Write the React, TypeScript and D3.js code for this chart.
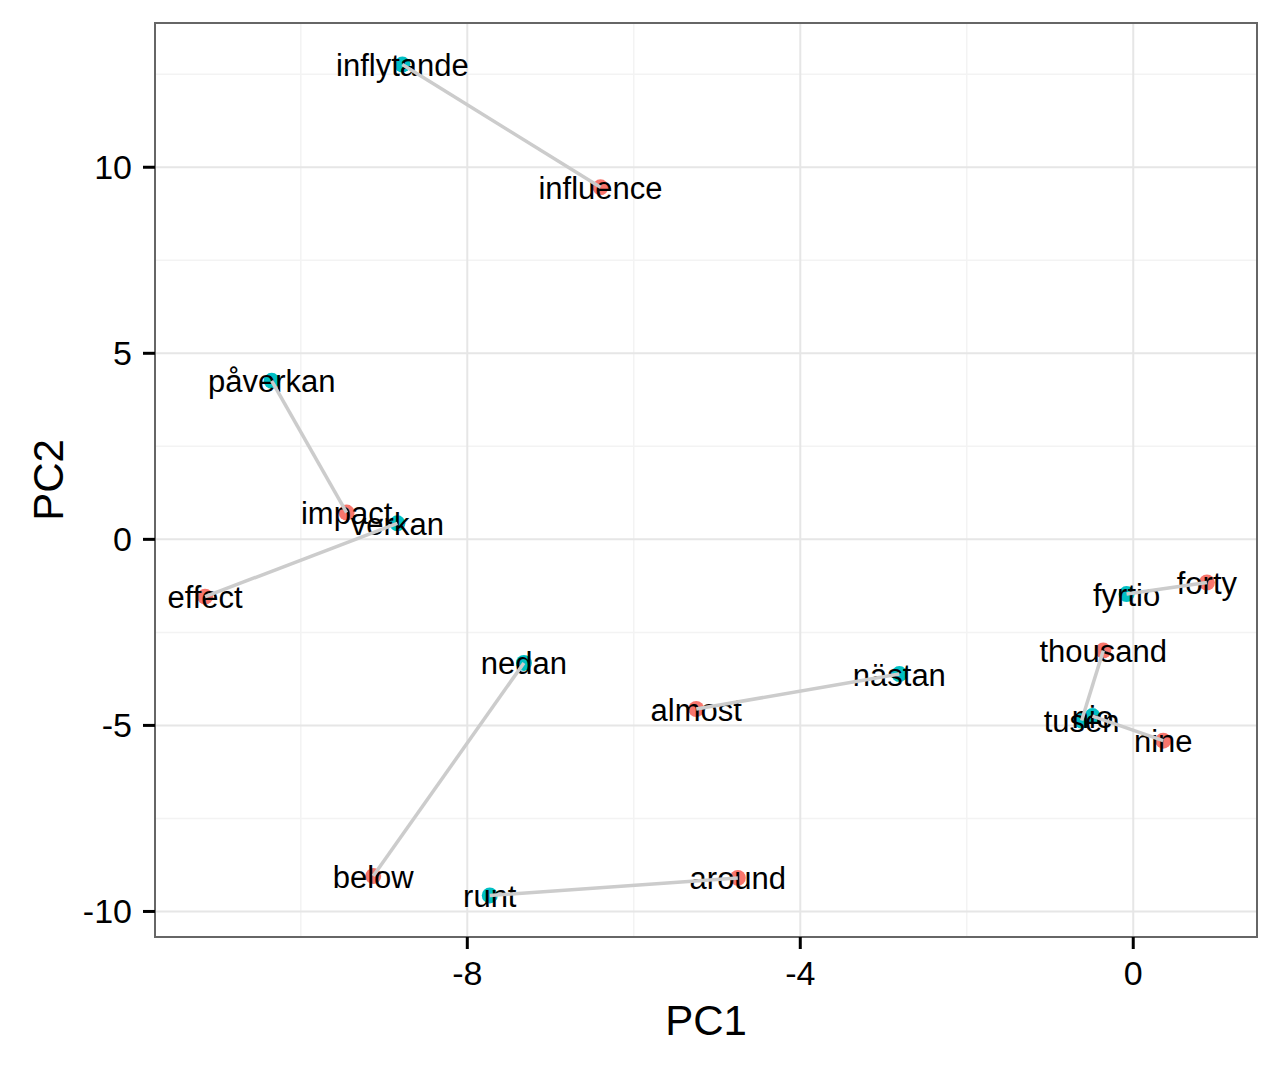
import React from "react";
import * as d3 from "d3";

const englishWords = ["influence", "impact", "effect", "below", "around", "almost", "forty", "thousand", "nine"];
const englishPC1 = [-6.40, -9.45, -11.15, -9.13, -4.75, -5.25, 0.885, -0.36, 0.36];
const englishPC2 = [9.46, 0.72, -1.54, -9.05, -9.10, -4.56, -1.16, -2.99, -5.41];

const swedishWords = ["inflytande", "påverkan", "verkan", "nedan", "runt", "nästan", "fyrtio", "tusen", "nio"];
const swedishPC1 = [-8.78, -10.35, -8.84, -7.32, -7.73, -2.81, -0.08, -0.62, -0.49];
const swedishPC2 = [12.76, 4.26, 0.43, -3.32, -9.57, -3.62, -1.47, -4.87, -4.75];

const xMajorTicks = [-8, -4, 0];
const xMinorTicks = [-10, -6, -2];
const yMajorTicks = [-10, -5, 0, 5, 10];
const yMinorTicks = [-7.5, -2.5, 2.5, 7.5, 12.5];

const RED = "#F8766D";
const TEAL = "#00BFC4";

type Pt = { word: string; x: number; y: number; color: string };

export default function App() {
  const W = 1280, H = 1066;
  const left = 155, right = 1257, top = 23, bottom = 937;

  const points: Pt[] = [
    ...englishWords.map((w, i) => ({ word: w, x: englishPC1[i], y: englishPC2[i], color: RED })),
    ...swedishWords.map((w, i) => ({ word: w, x: swedishPC1[i], y: swedishPC2[i], color: TEAL })),
  ];

  const xExt = d3.extent(points, (d) => d.x) as [number, number];
  const yExt = d3.extent(points, (d) => d.y) as [number, number];
  const xPad = (xExt[1] - xExt[0]) * 0.05;
  const yPad = (yExt[1] - yExt[0]) * 0.05;
  const x = d3.scaleLinear().domain([xExt[0] - xPad, xExt[1] + xPad]).range([left, right]);
  const y = d3.scaleLinear().domain([yExt[0] - yPad, yExt[1] + yPad]).range([bottom, top]);

  const font = "'Liberation Sans', Arial, Helvetica, sans-serif";

  return (
    <svg width={W} height={H} style={{ position: "absolute", left: 0, top: 0, background: "#fff" }} fontFamily={font}>
      <rect x={0} y={0} width={W} height={H} fill="#fff" />
      {/* minor grid */}
      {xMinorTicks.map((t) => (
        <line key={"xm" + t} x1={x(t)} x2={x(t)} y1={top} y2={bottom} stroke="#F3F3F3" strokeWidth={1.5} />
      ))}
      {yMinorTicks.map((t) => (
        <line key={"ym" + t} x1={left} x2={right} y1={y(t)} y2={y(t)} stroke="#F3F3F3" strokeWidth={1.5} />
      ))}
      {/* major grid */}
      {xMajorTicks.map((t) => (
        <line key={"xM" + t} x1={x(t)} x2={x(t)} y1={top} y2={bottom} stroke="#E6E6E6" strokeWidth={2} />
      ))}
      {yMajorTicks.map((t) => (
        <line key={"yM" + t} x1={left} x2={right} y1={y(t)} y2={y(t)} stroke="#E6E6E6" strokeWidth={2} />
      ))}

      {/* points */}
      {points.map((p, i) => (
        <circle key={"p" + i} cx={x(p.x)} cy={y(p.y)} r={8} fill={p.color} />
      ))}
      {/* labels */}
      {points.map((p, i) => (
        <text key={"t" + i} x={x(p.x)} y={y(p.y) + 11.5} textAnchor="middle" fontSize={31} fill="#000">
          {p.word}
        </text>
      ))}
      {/* segments */}
      {englishWords.map((_, i) => (
        <line
          key={"s" + i}
          x1={x(englishPC1[i])}
          y1={y(englishPC2[i])}
          x2={x(swedishPC1[i])}
          y2={y(swedishPC2[i])}
          stroke="#CCCCCC"
          strokeWidth={3.5}
        />
      ))}

      {/* panel border */}
      <rect x={left} y={top} width={right - left} height={bottom - top} fill="none" stroke="#666" strokeWidth={2} />

      {/* x axis ticks */}
      {xMajorTicks.map((t) => (
        <g key={"xt" + t}>
          <line x1={x(t)} x2={x(t)} y1={bottom} y2={bottom + 12} stroke="#000" strokeWidth={3} />
          <text x={x(t)} y={bottom + 48} textAnchor="middle" fontSize={34} fill="#000">
            {t}
          </text>
        </g>
      ))}
      {/* y axis ticks */}
      {yMajorTicks.map((t) => (
        <g key={"yt" + t}>
          <line x1={left - 12} x2={left} y1={y(t)} y2={y(t)} stroke="#000" strokeWidth={3} />
          <text x={left - 23} y={y(t) + 12} textAnchor="end" fontSize={34} fill="#000">
            {t}
          </text>
        </g>
      ))}

      {/* axis titles */}
      <text x={(left + right) / 2} y={1035} textAnchor="middle" fontSize={42} fill="#000">
        PC1
      </text>
      <text
        transform={`translate(63, ${(top + bottom) / 2}) rotate(-90)`}
        textAnchor="middle"
        fontSize={42}
        fill="#000"
      >
        PC2
      </text>
    </svg>
  );
}
